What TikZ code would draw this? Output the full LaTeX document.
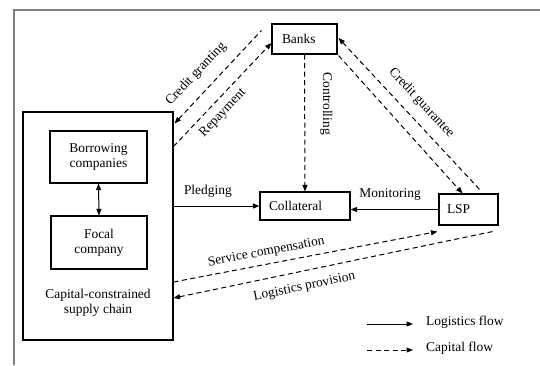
\documentclass[tikz,border=0pt]{standalone}
\usepackage{fontspec}
\setmainfont{Liberation Serif}
\usetikzlibrary{arrows.meta,calc}
\begin{document}
\begin{tikzpicture}[x=1bp,y=-1bp,
  font=\fontsize{13.5}{15.5}\selectfont,
  >={Triangle[length=6.5bp,width=5bp]},
  box/.style={draw, line width=1.1bp, inner sep=0pt},
  leftbox/.style={box, align=left},
  logflow/.style={line width=1bp},
  capflow/.style={line width=1bp, dash pattern=on 5bp off 3.5bp},
  lbl/.style={inner sep=4.5bp}
]
\useasboundingbox (0,0) rectangle (540,365);
% partial frame
\draw[draw=black!50, line width=1.2bp] (540,10) -- (14,10) -- (14,365);

% nodes
\node[leftbox, text width=45bp, inner xsep=10bp, minimum height=30bp] (banks) at (304.5,39) {Banks};
\node[box, minimum width=150bp, minimum height=228bp] (chain) at (98,226) {};
\node[align=center] (chainlbl) at (98,303) {Capital-constrained\\supply chain};
\node[box, align=center, minimum width=97bp, minimum height=52bp] (borrow) at (98.5,157) {Borrowing\\companies};
\node[box, align=center, minimum width=96bp, minimum height=53bp] (focal) at (99,242.5) {Focal\\company};
\node[leftbox, text width=72bp, inner xsep=9bp, minimum height=28bp] (coll) at (305,206) {Collateral};
\node[leftbox, text width=43bp, inner xsep=8bp, minimum height=31bp] (lsp) at (468.5,209.5) {LSP};

% connector end points
\coordinate (cgA) at ($(chain.north east)+(1,12)$);
\coordinate (cgB) at ($(banks.north west)+(-10,7)$);
\coordinate (rpA) at ($(chain.north east)+(0,35)$);
\coordinate (rpB) at ($(banks.west)+(0,4)$);
\coordinate (guA) at ($(banks.east)+(1,-1)$);
\coordinate (guB) at ($(lsp.north east)+(-18,-3)$);
\coordinate (gdA) at ($(banks.south east)+(1,1)$);
\coordinate (gdB) at ($(lsp.north)+(-6,0)$);
\coordinate (scA) at ($(chain.east)+(0,56)$);
\coordinate (scB) at ($(lsp.south west)+(-1,6)$);
\coordinate (lpA) at ($(chain.east)+(0,72)$);
\coordinate (lpB) at ($(lsp.south east)+(-6,6)$);

% logistics flows
\draw[logflow, <->] (borrow.south) -- (focal.north);
\draw[logflow, ->] (coll.west -| chain.east) -- node[lbl, pos=0.4, above=4bp] {Pledging} (coll.west);
\draw[logflow, ->] (lsp.west) -- node[lbl, pos=0.55, above=4bp] {Monitoring} (lsp.west -| coll.east);

% capital flows
\draw[capflow, ->] (banks.south) -- node[pos=0.36, rotate=-90, anchor=south, inner sep=15bp] {Controlling} (coll.north);
\draw[capflow, <-] (cgA) -- node[lbl, pos=0.4, sloped, above=7bp] {Credit granting} (cgB);
\draw[capflow, ->] (rpA) -- node[lbl, pos=0.41, sloped, below=2bp] {Repayment} (rpB);
\draw[capflow, <-] (guA) -- node[lbl, pos=0.5, sloped, above=5bp] {Credit guarantee} (guB);
\draw[capflow, ->] (gdA) -- (gdB);
\draw[capflow, ->] (scA) -- node[lbl, pos=0.36, sloped, above=1bp] {Service compensation} (scB);
\draw[capflow, <-] (lpA) -- node[lbl, pos=0.4, sloped, below=5bp] {Logistics provision} (lpB);

% legend
\coordinate (legA1) at (367,324);
\coordinate (legA2) at (413,324);
\coordinate (legB1) at (367,350);
\coordinate (legB2) at (413,350);
\node[anchor=west, inner sep=0pt] (legAt) at (426,322.5) {Logistics flow};
\node[anchor=west, inner sep=0pt] (legBt) at (426,348) {Capital flow};
\draw[logflow, ->] (legA1) -- (legA2);
\draw[capflow, ->] (legB1) -- (legB2);
\end{tikzpicture}
\end{document}
